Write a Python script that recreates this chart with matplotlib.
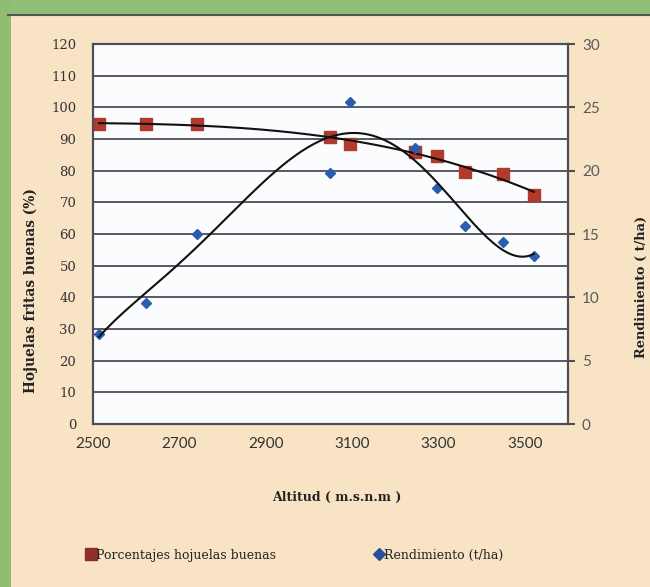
import numpy as np
import matplotlib
matplotlib.use("Agg")
import matplotlib.pyplot as plt
from matplotlib.lines import Line2D
from matplotlib.patches import Rectangle

# ---- data ----
altitud = [2514, 2623, 2741, 3049, 3095, 3245, 3296, 3361, 3449, 3521]
porcentaje = [94.8, 94.8, 94.8, 90.6, 88.4, 86.0, 84.7, 79.5, 79.1, 72.3]
rendimiento = [7.1, 9.55, 15.0, 19.8, 25.4, 21.8, 18.6, 15.6, 14.4, 13.3]
x_ticks = [2500, 2700, 2900, 3100, 3300, 3500]
left_ticks = list(range(0, 121, 10))
right_ticks = list(range(0, 31, 5))

W, H = 650, 587
fig = plt.figure(figsize=(W / 100, H / 100), dpi=100)
fig.patch.set_facecolor("#f9e3c5")

def fx(px):
    return px / W

def fy(py):
    return 1 - py / H

# decorative green borders
fig.add_artist(Rectangle((0, fy(14)), 1, 14 / H, transform=fig.transFigure,
                         facecolor="#92bf78", edgecolor="none", zorder=0))
fig.add_artist(Rectangle((0, 0), fx(11), 1, transform=fig.transFigure,
                         facecolor="#8fbd74", edgecolor="none", zorder=0))
fig.add_artist(Line2D([fx(8), 1], [fy(15), fy(15)], transform=fig.transFigure,
                      color="#555555", lw=1.5))

x0, x1, y0, y1 = 93, 568, 44, 424
ax = fig.add_axes([fx(x0), fy(y1), fx(x1 - x0), (y1 - y0) / H])
ax.set_facecolor("#fbfcfd")
ax2 = ax.twinx()

red = "#b23a2c"
blue = "#2a5db0"
grid_c = "#4d4d55"

ax.set_xlim(2500, 3600)
ax.set_ylim(0, 120)
ax2.set_ylim(0, 30)
ax.set_xticks(x_ticks)
ax.set_yticks(left_ticks)
ax2.set_yticks(right_ticks)

ax.yaxis.grid(True, color=grid_c, lw=1.3)
ax.set_axisbelow(True)
for a in (ax, ax2):
    for s in a.spines.values():
        s.set_color(grid_c)
        s.set_linewidth(1.5)

ax.tick_params(axis="y", length=0, pad=12, labelsize=9.5, labelcolor="#333333")
for lab in ax.get_yticklabels():
    lab.set_fontfamily("DejaVu Serif")
ax.tick_params(axis="x", length=0, pad=9, labelsize=11, labelcolor="#333333")
for lab in ax.get_xticklabels():
    lab.set_fontfamily("Lato")
ax2.tick_params(axis="y", length=5, width=1.5, color=grid_c, pad=5,
                labelsize=11, labelcolor="#5a5a5a")
for lab in ax2.get_yticklabels():
    lab.set_fontfamily("Lato")

# trend lines (polynomial fits of the data)
xs = np.linspace(min(altitud), max(altitud), 300)
xa = np.array(altitud, dtype=float)
xm, xsd = xa.mean(), xa.std()
cp = np.polyfit((xa - xm) / xsd, porcentaje, 3)
cr = np.polyfit((xa - xm) / xsd, rendimiento, 5)
ax.plot(xs, np.polyval(cp, (xs - xm) / xsd), color="#111111", lw=1.5, zorder=4)
ax2.plot(xs, np.polyval(cr, (xs - xm) / xsd), color="#111111", lw=1.5, zorder=4)

ax.plot(altitud, porcentaje, linestyle="none", marker="s", markersize=8,
        color=red, zorder=3)
ax2.plot(altitud, rendimiento, linestyle="none", marker="D", markersize=5.5,
         color=blue, zorder=3)

# axis labels
fig.text(fx(31), fy(291), "Hojuelas fritas buenas (%)", rotation=90,
         ha="center", va="center", family="DejaVu Serif", weight="bold",
         fontsize=9.9, color="#222222")
fig.text(fx(641), fy(287), "Rendimiento ( t/ha)", rotation=90,
         ha="center", va="center", family="DejaVu Serif", weight="bold",
         fontsize=9.3, color="#222222")
fig.text(fx(337), fy(497), "Altitud ( m.s.n.m )", ha="center", va="center",
         family="DejaVu Serif", weight="bold", fontsize=9, color="#222222")

handles = [Line2D([], [], linestyle="none", marker="s", markersize=8, color="#8e2f2a"),
           Line2D([], [], linestyle="none", marker="D", markersize=6, color="#2a4f9a")]
leg = fig.legend(handles, ["Porcentajes hojuelas buenas", "Rendimiento (t/ha)"],
                 ncol=2, frameon=False, loc="center left",
                 bbox_to_anchor=(fx(76), fy(555)), handlelength=0.6,
                 handletextpad=0.1, columnspacing=7.9,
                 prop={"family": "DejaVu Serif", "size": 9})
for t in leg.get_texts():
    t.set_color("#222222")

fig.savefig("out.png", dpi=100, facecolor=fig.get_facecolor())
